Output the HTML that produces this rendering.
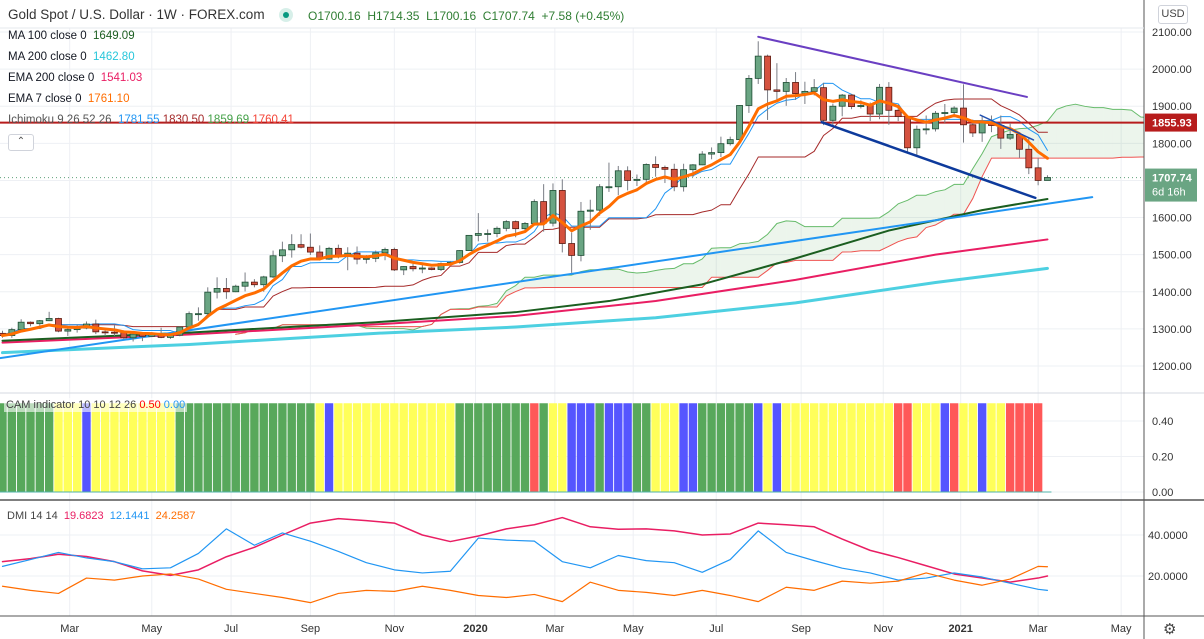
<!DOCTYPE html>
<html><head><meta charset="utf-8">
<style>
html,body{margin:0;padding:0;background:#fff;}
body{width:1204px;height:639px;overflow:hidden;position:relative;font-family:"Liberation Sans",sans-serif;}
svg{position:absolute;left:0;top:0;}
.lg{position:absolute;font-size:11.5px;color:#131722;white-space:nowrap;}
</style></head>
<body>
<svg id="chart" width="1204" height="639"></svg>

<div class="lg" style="left:8px;top:7px;font-size:13.5px;color:#333;">Gold Spot / U.S. Dollar · 1W · FOREX.com</div>
<div style="position:absolute;left:279px;top:8px;width:14px;height:14px;border-radius:7px;background:#d7efe9;"><div style="position:absolute;left:4px;top:4px;width:6px;height:6px;border-radius:3px;background:#089981;"></div></div>
<div class="lg" style="left:308px;top:9px;font-size:12px;color:#2e7d32;">O1700.16&nbsp; H1714.35&nbsp; L1700.16&nbsp; C1707.74&nbsp; +7.58 (+0.45%)</div>
<div class="lg" style="left:8px;top:30px;">MA 100 close 0&nbsp; <span style="color:#1b5e20">1649.09</span></div>
<div class="lg" style="left:8px;top:51px;">MA 200 close 0&nbsp; <span style="color:#26c6da">1462.80</span></div>
<div class="lg" style="left:8px;top:72px;">EMA 200 close 0&nbsp; <span style="color:#e91e63">1541.03</span></div>
<div class="lg" style="left:8px;top:93px;">EMA 7 close 0&nbsp; <span style="color:#ff6d00">1761.10</span></div>
<div class="lg" style="left:8px;top:114px;color:#555;">Ichimoku 9 26 52 26&nbsp; <span style="color:#2196f3">1781.55</span> <span style="color:#a52a2a">1830.50</span> <span style="color:#43a047">1859.69</span> <span style="color:#f44336">1760.41</span></div>
<div style="position:absolute;left:8px;top:134px;width:24px;height:15px;border:1px solid #d0d3db;border-radius:3px;background:#fff;font-size:10px;color:#555;text-align:center;line-height:14px;">⌃</div>
<div class="lg" style="left:4px;top:398px;font-size:11px;color:#444;background:rgba(255,255,255,0.6);padding:1px 2px;">CAM indicator 10 10 12 26 <span style="color:#f00">0.50</span> <span style="color:#2196f3">0.00</span></div>
<div class="lg" style="left:7px;top:510px;font-size:11px;color:#444;">DMI 14 14&nbsp; <span style="color:#e91e63">19.6823</span>&nbsp; <span style="color:#2196f3">12.1441</span>&nbsp; <span style="color:#ff6d00">24.2587</span></div>
<div style="position:absolute;left:1158px;top:5px;width:28px;height:17px;border:1px solid #d0d3db;border-radius:3px;font-size:11px;color:#444;text-align:center;line-height:17px;">USD</div>
<div style="position:absolute;left:1163px;top:620px;font-size:15px;color:#444;">⚙</div>

<script>
// ---------- DATA ----------
const closes = [1282,1298,1318,1314,1322,1328,1294,1298,1302,1313,1292,1291,1290,1276,1286,1280,1286,1277,1283,1305,1341,1341,1399,1409,1400,1415,1426,1419,1440,1497,1513,1527,1520,1507,1488,1517,1497,1504,1488,1490,1505,1514,1459,1468,1462,1464,1460,1476,1479,1511,1552,
1557,1557,1571,1589,1570,1584,1643,1585,1673,1530,1498,1617,1620,1683,1683,1726,1700,1703,1743,1735,1730,1683,1729,1742,1771,1775,1799,1810,1902,1975,2035,1944,1940,1964,1934,1940,1950,1862,1900,1930,1899,1902,1879,1951,1889,1872,1788,1838,1839,1881,1883,1895,
1850,1828,1856,1848,1814,1824,1784,1734,1700,1708];
const firstOpen = 1288;
const highs = [1295,1303,1326,1320,1324,1346,1330,1301,1311,1320,1325,1301,1310,1296,1288,1289,1291,1303,1287,1306,1347,1358,1412,1439,1437,1419,1452,1434,1443,1511,1535,1555,1555,1557,1525,1521,1527,1520,1522,1499,1511,1519,1519,1469,1475,1474,1466,1479,1483,1512,1553,
1612,1568,1576,1593,1592,1588,1649,1690,1692,1703,1560,1642,1648,1690,1748,1739,1738,1716,1746,1765,1740,1745,1745,1744,1779,1789,1818,1818,1903,1984,2075,2039,2016,1976,1992,1966,1973,1963,1907,1933,1933,1916,1910,1960,1965,1900,1876,1848,1875,1887,1906,1900,
1959,1864,1875,1875,1875,1855,1830,1816,1760,1714];
const lows = [1276,1276,1297,1307,1302,1321,1291,1281,1290,1299,1286,1281,1281,1273,1266,1267,1278,1275,1273,1280,1305,1322,1331,1382,1381,1399,1401,1412,1400,1437,1480,1492,1517,1499,1484,1486,1490,1458,1474,1476,1480,1485,1456,1445,1455,1450,1458,1456,1474,1476,1511,
1536,1535,1547,1563,1547,1562,1581,1562,1576,1506,1451,1482,1567,1605,1669,1660,1673,1685,1689,1710,1693,1671,1670,1709,1741,1757,1763,1794,1807,1882,1960,1863,1911,1901,1917,1906,1929,1849,1848,1873,1892,1894,1860,1865,1850,1860,1774,1764,1824,1832,1855,1870,
1802,1817,1804,1830,1785,1809,1761,1717,1687,1700];

const maWeeks    = [0,20,40,55,65,75,85,95,105,112];
const ma100Vals  = [1268,1290,1318,1345,1375,1420,1490,1565,1620,1650];
const emaWeeks   = [0,20,40,55,70,85,100,112];
const ema200Vals = [1263,1285,1312,1335,1375,1432,1500,1541];
const ma200Vals  = [1236,1258,1288,1305,1330,1370,1425,1463];

// CAM indicator colors per week
const camColors = ['g','g','g','g','g','g','y','y','y','b','y','y','y','y','y','y','y','y','y','g','g','g','g','g','g','g','g','g','g','g','g','g','g','g','y','b','y','y','y','y','y','y','y','y','y','y','y','y','y','g','g','g','g','g','g','g','g','r','g','y','y','b','b','b','g','b','b','b','g','g','y','y','y','b','b','g','g','g','g','g','g','b','y','b','y','y','y','y','y','y','y','y','y','y','y','y','r','r','y','y','y','b','r','y','y','b','y','y','r','r','r','r'];
const camValue = 0.5;

// DMI (sampled every 3 weeks)
const dmiWeeks = [0,3,6,9,12,15,18,21,24,27,30,33,36,39,42,45,48,51,54,57,60,63,66,69,72,75,78,81,84,87,90,93,96,99,102,105,108,111,112];
const adxVals  = [27,28.5,30.6,29.5,27,22.5,20.3,23,29.4,34,40,45.8,48,47,45.8,40,36.8,39.5,43,45,48.5,44,42.8,43,42,40,40.5,45.8,45,44,38,32.5,29,25,21,19,17,19,20];
const diPlus   = [24.7,28,31.5,28.8,27,23.5,24,31,43,35,41,37,32,26.5,23,21.5,22.3,38.5,37.5,37,27,24,30,27.5,26.5,21.8,28,42,31.5,27.5,23.8,21.5,18,19,21.5,19.5,16.5,13.5,13];
const diMinus  = [15,13,11.5,19,18,20,21,18.5,13.5,11.5,9.5,7,11.5,13,12.5,15,13,10.5,9.5,11,7.5,17,13,12,10.5,13,10.5,7.5,14.5,13,17.5,16.5,17.5,21.5,18,15.5,18.5,24.7,24.5];

// Drawings (anchors in week/price)
const purpleLine = {w:[81,109.8], p:[2087,1925]};
const navyLine   = {w:[87.8,110.7], p:[1857,1653]};
const navyShort  = {w:[104.8,110.5], p:[1876,1809]};
const blueTrend  = {w:[-0.3,116.8], p:[1221,1655]};
const hLinePrice = 1855.93;
const lastPrice = 1707.74;

const priceTicks = [2100,2000,1900,1800,1700,1600,1500,1400,1300,1200];
const timeLabels = ['Mar','May','Jul','Sep','Nov','2020','Mar','May','Jul','Sep','Nov','2021','Mar','May'];
const timeWeeks  = [7.2,16,24.5,33,42,50.7,59.2,67.6,76.5,85.6,94.4,102.7,111,119.9];
const camTicks = [0.4,0.2,0.0];
const dmiTicks = [40,20];

// ---------- SCALES ----------
const xOf = i => 2.5 + i*9.33;
const yP = p => 32 + (2100-p)*0.3711;
const yC = v => 492 - v*177.5;
const yD = v => 576 - (v-20)*2.05;

const NS='http://www.w3.org/2000/svg';
const svg=document.getElementById('chart');
function mk(tag, attrs, parent){const e=document.createElementNS(NS,tag);for(const k in attrs)e.setAttribute(k,attrs[k]);(parent||svg).appendChild(e);return e;}

const defs=mk('defs',{});
const cp=mk('clipPath',{id:'mainclip'},defs); mk('rect',{x:0,y:28,width:1144,height:365},cp);

timeWeeks.forEach(w=>{
  const l=mk('line',{x1:xOf(w),x2:xOf(w),y1:28,y2:616,stroke:'#eef0f4','stroke-width':1});
  
  
});
priceTicks.forEach(p=>{
  const l=mk('line',{x1:0,x2:1144,y1:yP(p),y2:yP(p),stroke:'#eef0f4'});
  
  
});
camTicks.forEach(v=>{
  const l=mk('line',{x1:0,x2:1144,y1:yC(v),y2:yC(v),stroke:'#eef0f4'});
  
  
});
dmiTicks.forEach(v=>{
  const l=mk('line',{x1:0,x2:1144,y1:yD(v),y2:yD(v),stroke:'#eef0f4'});
  
  
});

const main=mk('g',{'clip-path':'url(#mainclip)'});



const N=closes.length;
const opens=closes.map((c,i)=>i===0?firstOpen:closes[i-1]);
function mid(i,n){let h=-1e9,l=1e9;for(let k=Math.max(0,i-n+1);k<=i;k++){h=Math.max(h,highs[k]);l=Math.min(l,lows[k]);}return (h+l)/2;}
const tenkan=[],kijun=[],spanA=[],spanB=[],ema7=[];
for(let i=0;i<N;i++){tenkan.push(mid(i,9));kijun.push(mid(i,26));spanA.push((tenkan[i]+kijun[i])/2);spanB.push(mid(i,52));
  ema7.push(i===0?closes[0]:ema7[i-1]+(closes[i]-ema7[i-1])*2/8);}
const shift=25;

for(let i=0;i<N-1;i++){
  const x1=xOf(i+shift),x2=xOf(i+shift+1);
  const up=(spanA[i]+spanA[i+1])>=(spanB[i]+spanB[i+1]);
  const poly=mk('polygon',{points:`${x1},${yP(spanA[i])} ${x2},${yP(spanA[i+1])} ${x2},${yP(spanB[i+1])} ${x1},${yP(spanB[i])}`,fill:up?'rgba(67,160,71,0.10)':'rgba(244,67,54,0.10)'},main);
  
  
}
function polyline(xs,ys,color,w,name,parent){
  const pts=xs.map((x,k)=>x+','+ys[k]).join(' ');
  const pl=mk('polyline',{points:pts,fill:'none',stroke:color,'stroke-width':w,'stroke-linejoin':'round','stroke-linecap':'round'},parent||main);
  
  
  return pl;
}
const idx=[...Array(N).keys()];
polyline(idx.map(i=>xOf(i+shift)),spanA.map(yP),'#66bb6a',1,'senkou-span-a');
polyline(idx.map(i=>xOf(i+shift)),spanB.map(yP),'#ef5350',1,'senkou-span-b');
polyline(emaWeeks.map(xOf),ma200Vals.map(yP),'#4dd0e1',3,'ma200-line');
polyline(emaWeeks.map(xOf),ema200Vals.map(yP),'#e91e63',2,'ema200-line');
polyline(maWeeks.map(xOf),ma100Vals.map(yP),'#1b5e20',2,'ma100-line');
polyline(blueTrend.w.map(xOf),blueTrend.p.map(yP),'#2196f3',2,'rising-trendline');
polyline(idx.map(xOf),kijun.map(yP),'#a52a2a',1,'kijun-line');
polyline(idx.map(xOf),tenkan.map(yP),'#2196f3',1,'tenkan-line');

const hl=mk('line',{x1:0,x2:1144,y1:yP(hLinePrice),y2:yP(hLinePrice),stroke:'#b71c1c','stroke-width':2},main);


const dl=mk('line',{x1:0,x2:1144,y1:yP(lastPrice),y2:yP(lastPrice),stroke:'#5fa07a','stroke-width':1,'stroke-dasharray':'1,3'},main);



for(let i=0;i<N;i++){
  const o=opens[i],c=closes[i],up=c>=o,x=xOf(i);
  const g=mk('g',{},main);
  
  
  mk('line',{x1:x,x2:x,y1:yP(highs[i]),y2:yP(lows[i]),stroke:'#7a7d85','stroke-width':1},g);
  const top=yP(Math.max(o,c)),bot=yP(Math.min(o,c));
  mk('rect',{x:x-3,y:top,width:6,height:Math.max(1,bot-top),fill:up?'#6aa583':'#d5523f',stroke:up?'#1d4d33':'#5c1a10','stroke-width':0.8},g);
}
polyline(idx.map(xOf),ema7.map(yP),'#ff6d00',3,'ema7-line');
polyline(purpleLine.w.map(xOf),purpleLine.p.map(yP),'#6a3fc2',2,'descending-trendline-top');
polyline(navyLine.w.map(xOf),navyLine.p.map(yP),'#0d3a9c',2.5,'descending-trendline-bottom');
polyline(navyShort.w.map(xOf),navyShort.p.map(yP),'#1e4fb0',1.5,'short-trendline');

const camMap={g:'#58a85b',y:'#ffff5a',b:'#5555ff',r:'#ff5858'};
camColors.forEach((c,i)=>{
  const x=xOf(i);
  const r=mk('rect',{x:x-4.2,y:yC(camValue),width:8.4,height:yC(0)-yC(camValue),fill:camMap[c]});
  
  
});
const zl=mk('line',{x1:0,x2:xOf(N-1)+4,y1:yC(0),y2:yC(0),stroke:'#4fb3a8','stroke-width':1});



polyline(dmiWeeks.map(xOf),adxVals.map(yD),'#e91e63',1.5,'dmi-adx-line',svg);
polyline(dmiWeeks.map(xOf),diPlus.map(yD),'#2196f3',1.2,'dmi-plus-line',svg);
polyline(dmiWeeks.map(xOf),diMinus.map(yD),'#ff6d00',1.2,'dmi-minus-line',svg);

[[0,393,1204,393,'#d6d9e0',1],[0,500,1204,500,'#555',1.5],[0,616,1204,616,'#555',1],[1144,0,1144,639,'#555',1],[0,28,1144,28,'#e6e8ee',1]].forEach(a=>{
  const l=mk('line',{x1:a[0],y1:a[1],x2:a[2],y2:a[3],stroke:a[4],'stroke-width':a[5]});
  
  
});

function txt(x,y,s,opts){const t=mk('text',Object.assign({x:x,y:y,'font-family':'Liberation Sans, sans-serif','font-size':11,fill:'#333'},opts||{}));t.textContent=s;return t;}
priceTicks.forEach(p=>{
  const t=txt(1152,yP(p)+4,p.toFixed(2));
  
  
});
camTicks.forEach(v=>{
  const t=txt(1152,yC(v)+4,v.toFixed(2));
  
  
});
dmiTicks.forEach(v=>{
  const t=txt(1148,yD(v)+4,v.toFixed(4));
  
  
});
timeLabels.forEach((s,k)=>{
  const t=txt(xOf(timeWeeks[k]),632,s,{'text-anchor':'middle','font-weight':/^20/.test(s)?'bold':'normal'});
  
  
});

const hb=mk('rect',{x:1145,y:yP(hLinePrice)-9,width:52,height:18,fill:'#b71c1c'});


txt(1152,yP(hLinePrice)+4,hLinePrice.toFixed(2),{fill:'#fff','font-weight':'bold'});
const lb=mk('rect',{x:1145,y:yP(lastPrice)-9,width:52,height:33,fill:'#6aa583'});


txt(1152,yP(lastPrice)+4,lastPrice.toFixed(2),{fill:'#fff','font-weight':'bold'});
txt(1152,yP(lastPrice)+18,'6d 16h',{fill:'#fff'});
</script>
</body></html>
